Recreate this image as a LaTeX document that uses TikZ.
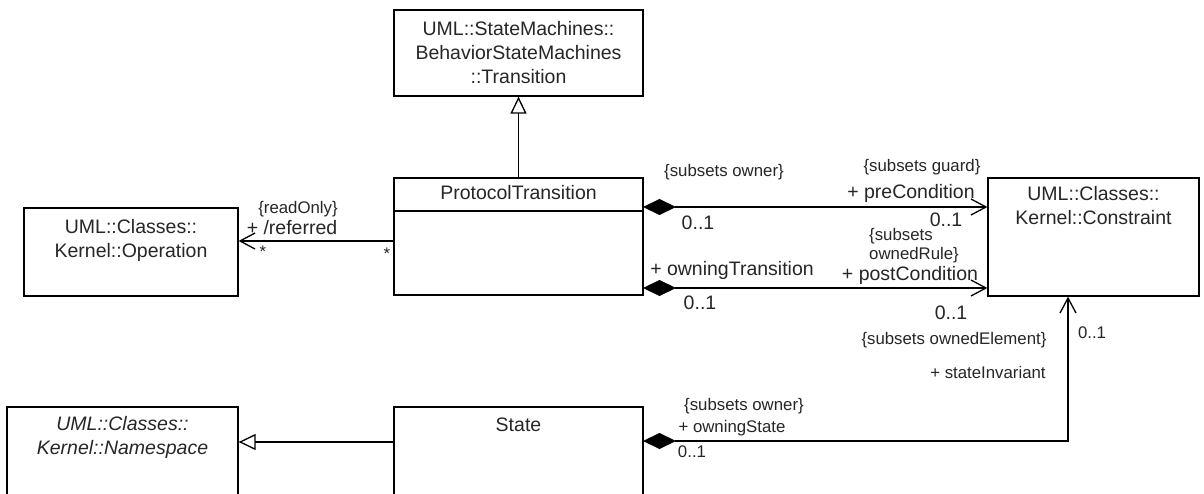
\documentclass[tikz,border=0pt]{standalone}
\usepackage{fontspec}
\setmainfont{Liberation Sans}
\usetikzlibrary{arrows.meta,calc}
\newcommand\Lbig{\fontsize{19.5}{24}\selectfont}
\newcommand\Lsmall{\fontsize{16.8}{19}\selectfont}
\tikzset{
  classbox/.style={draw, line width=1.3pt, inner sep=0pt, fill=white},
  bigtxt/.style={font=\Lbig, inner sep=0pt, align=center, text=black!85},
  smalltxt/.style={font=\Lsmall, inner sep=0pt, align=center, text=black!85},
  conn/.style={line width=1.3pt},
  gen/.style={conn, -{Triangle[open,length=17pt,width=16pt,fill=white]}},
  nav/.style={conn, -{Straight Barb[length=15pt,width=16pt]}},
  comp/.style={conn, {Diamond[length=33pt,width=16pt]}-{Straight Barb[length=15pt,width=16pt]}},
}
\begin{document}
\begin{tikzpicture}[x=1pt,y=-1pt]
\clip (0,0) rectangle (1204,494);
\fill[white] (0,0) rectangle (1204,494);

% boxes
\node[classbox, minimum width=249pt, minimum height=86pt] (trans) at (518.5,53) {};
\node[bigtxt] (transT) at (518.5,53) {UML::StateMachines::\\BehaviorStateMachines\\::Transition};

\node[classbox, minimum width=249pt, minimum height=117pt] (pt) at (518.5,236.5) {};
\draw[conn] (pt.west |- 0,211) coordinate (ptdivL) -- (pt.east |- ptdivL);
\node[bigtxt] (ptT) at (518.5,193) {ProtocolTransition};

\node[classbox, minimum width=214pt, minimum height=88pt] (op) at (131,252) {};
\node[bigtxt, anchor=north] (opT) at (131,219) {UML::Classes::\\Kernel::Operation};

\node[classbox, minimum width=211pt, minimum height=118pt] (con) at (1093.5,237) {};
\node[bigtxt, anchor=north] (conT) at (1093.5,186) {UML::Classes::\\Kernel::Constraint};

\node[classbox, minimum width=231pt, minimum height=95pt] (ns) at (122.5,454.5) {};
\node[bigtxt, anchor=north] (nsT) at (122.5,416) {\itshape UML::Classes::\\\itshape Kernel::Namespace};

\node[classbox, minimum width=249pt, minimum height=95pt] (st) at (518.5,454.5) {};
\node[bigtxt] (stT) at (518.5,425) {State};

% coordinates for connector ends
\coordinate (refA) at (394,241);
\coordinate (preA) at (643,207);
\coordinate (postA) at (643,288);
\coordinate (stA) at (643,441);
\coordinate (stGen) at (394,442);
\coordinate (bend) at (1068,441);

% generalizations
\draw[gen] (pt.north) -- (trans.south);
\draw[gen] (stGen) -- (ns.east |- stGen);

% association to Operation
\draw[nav] (refA) -- (op.east |- refA);

% compositions to Constraint
\draw[comp] (preA) -- (con.west |- preA);
\draw[comp] (postA) -- (con.west |- postA);
\draw[comp] (stA) -- (bend) -- (con.south -| bend);

% labels
\node[smalltxt] (lRO) at (298,209) {\{readOnly\}};
\node[bigtxt] (lRef) at (292,228) {+ /referred};
\node[smalltxt] (lStar1) at (263,252) {*};
\node[smalltxt] (lStar2) at (387,254) {*};

\node[smalltxt] (lSO1) at (724,172) {\{subsets owner\}};
\node[smalltxt] (lSG) at (922,167) {\{subsets guard\}};
\node[bigtxt] (lPre) at (911,193) {+ preCondition};
\node[bigtxt] (lM1) at (946,220) {0..1};
\node[bigtxt] (lM2) at (698,223) {0..1};
\node[smalltxt, align=left, anchor=north west] (lSR) at (869,228) {\{subsets\\ownedRule\}};
\node[bigtxt] (lPost) at (910,275) {+ postCondition};
\node[bigtxt] (lOT) at (732,270) {+ owningTransition};
\node[bigtxt] (lM3) at (700,303) {0..1};
\node[bigtxt] (lM4) at (951,313) {0..1};

\node[smalltxt] (lSE) at (954,340) {\{subsets ownedElement\}};
\node[smalltxt] (lSI) at (988,372) {+ stateInvariant};
\node[smalltxt] (lM5) at (1092,333) {0..1};
\node[smalltxt] (lSO2) at (744,406) {\{subsets owner\}};
\node[smalltxt] (lOS) at (732,428) {+ owningState};
\node[smalltxt] (lM6) at (692,452) {0..1};
\end{tikzpicture}
\end{document}
